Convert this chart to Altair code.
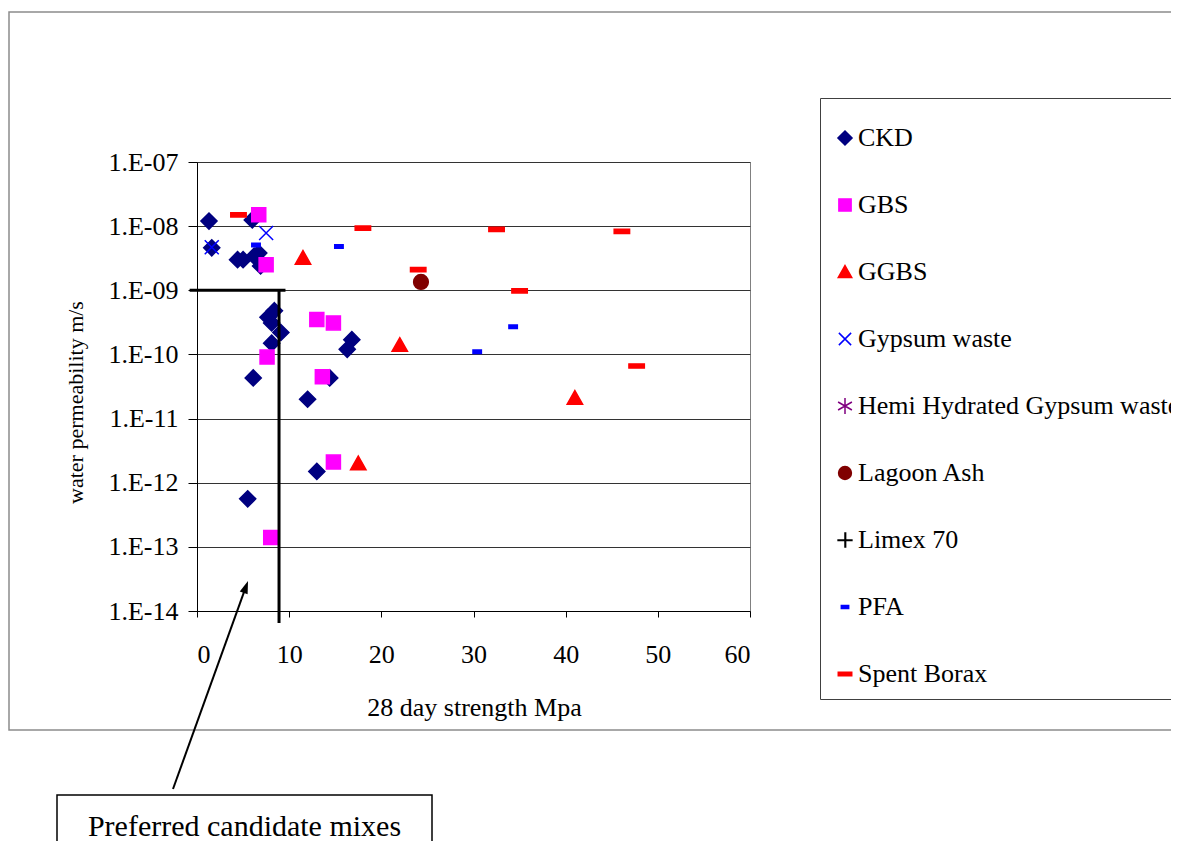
import altair as alt
import pandas as pd

series_names = ["CKD", "GBS", "GGBS", "Gypsum waste", "Hemi Hydrated Gypsum waste",
                "Lagoon Ash", "Limex 70", "PFA", "Spent Borax"]
series_colors = ["#000080", "#FF00FF", "#FF0000", "#0000FF", "#800080",
                 "#800000", "#000000", "#0000FF", "#FF0000"]
series_shapes = [
    "M0,-1.15L1.15,0L0,1.15L-1.15,0Z",
    "M-1,-1H1V1H-1Z",
    "M0,-1.05L1.1,0.9H-1.1Z",
    "M-1,-1L1,1M1,-1L-1,1",
    "M0,-1.3V1.3M-1.13,-0.65L1.13,0.65M-1.13,0.65L1.13,-0.65M0,-1.2V1.2",
    "M1.05,0A1.05,1.05,0,1,1,-1.05,0A1.05,1.05,0,1,1,1.05,0Z",
    "M-1.25,0H1.25M0,-1.25V1.25M-1.25,0.1H1.25M0.1,-1.25V1.25",
    "M-0.6,-0.25H0.6V0.25H-0.6Z",
    "M-1.1,-0.3H1.1V0.3H-1.1Z",
]

# 28 day strength (MPa) and water permeability (m/s)
ckd_x = [1.3, 6.0, 1.6, 4.4, 5.0, 6.2, 6.7, 6.9, 7.7, 8.4, 8.1, 9.1, 8.1, 16.8, 16.3, 6.1, 14.4, 12.0, 13.0, 5.5]
ckd_y = [1.2e-8, 1.25e-8, 4.6e-9, 3.0e-9, 3.0e-9, 3.4e-9, 3.8e-9, 2.4e-9, 3.8e-10, 4.8e-10,
         3.1e-10, 2.2e-10, 1.5e-10, 1.7e-10, 1.2e-10, 4.3e-11, 4.3e-11, 2.0e-11, 1.5e-12, 5.6e-13]
gbs_x = [6.7, 7.5, 13.0, 14.8, 7.6, 13.6, 14.8, 8.0]
gbs_y = [1.5e-8, 2.5e-9, 3.5e-10, 3.1e-10, 9.1e-11, 4.5e-11, 2.1e-12, 1.4e-13]
ggbs_x = [11.5, 22.0, 17.5, 41.0]
ggbs_y = [3.2e-9, 1.4e-10, 2.0e-12, 2.1e-11]
gyp_x = [1.6, 7.5]
gyp_y = [4.7e-9, 7.8e-9]
hemi_x = []
hemi_y = []
lagoon_x = [24.3]
lagoon_y = [1.35e-9]
limex_x = []
limex_y = []
pfa_x = [6.4, 15.4, 34.3, 30.4]
pfa_y = [5.1e-9, 4.8e-9, 2.7e-10, 1.1e-10]
borax_x = [4.5, 18.0, 32.5, 24.0, 35.0, 46.1, 47.7]
borax_y = [1.5e-8, 9.3e-9, 8.9e-9, 2.1e-9, 9.8e-10, 8.3e-9, 6.6e-11]

# preferred region boundary (strength ~9 MPa, permeability 1E-09)
limit_x = [-0.8, 8.9]
limit_x2 = [9.6, 8.9]
limit_y = [1e-9, 1e-9]
limit_y2 = [1e-9, 6.5e-15]

y_ticks = [1e-14, 1e-13, 1e-12, 1e-11, 1e-10, 1e-9, 1e-8, 1e-7]
x_ticks = [0, 10, 20, 30, 40, 50, 60]

all_x = [ckd_x, gbs_x, ggbs_x, gyp_x, hemi_x, lagoon_x, limex_x, pfa_x, borax_x]
all_y = [ckd_y, gbs_y, ggbs_y, gyp_y, hemi_y, lagoon_y, limex_y, pfa_y, borax_y]
rows = []
for name, xs, ys in zip(series_names, all_x, all_y):
    for a, b in zip(xs, ys):
        rows.append({"series": name, "x": a, "y": b})
points_df = pd.DataFrame(rows)
lines_df = pd.DataFrame({"x": limit_x, "x2": limit_x2, "y": limit_y, "y2": limit_y2})

FONT = "Liberation Serif"

x_enc = alt.X(
    "x:Q",
    title="28 day strength Mpa",
    scale=alt.Scale(domain=[0, 60], nice=False, zero=False),
    axis=alt.Axis(values=x_ticks, grid=False, tickSize=6, labelFontSize=26,
                  labelPadding=24, titleFontSize=26,
                  titleBaseline="alphabetic", titleX=277, titleY=104),
)
y_enc = alt.Y(
    "y:Q",
    title="water permeability m/s",
    scale=alt.Scale(type="log", domain=[1e-14, 1e-7], nice=False),
    axis=alt.Axis(values=y_ticks, grid=True, gridColor="#333333", gridWidth=1,
                  tickSize=9, labelFontSize=26, labelPadding=10,
                  labelExpr="'1.E-' + format(-round(log(datum.value)/LN10), '02d')",
                  titleFontSize=22, titleBaseline="alphabetic",
                  titleX=-115, titleY=240),
)

leg = alt.Legend(orient="none", legendX=623, legendY=-64, direction="vertical",
                 padding=12, strokeColor="#404040", fillColor="white",
                 labelFontSize=26, labelLimit=800, labelOffset=0, rowPadding=41,
                 symbolSize=150, symbolStrokeWidth=1.5,
                 titleFontSize=4, titlePadding=11)

outer = alt.Chart(pd.DataFrame({"k": [0]})).mark_rect(
    filled=False, color="#8c8c8c", strokeWidth=1.5
).encode(x=alt.value(-188), x2=alt.value(1100), y=alt.value(-150), y2=alt.value(568))

points = alt.Chart(points_df).mark_point(
    filled=True, size=196, strokeWidth=1.5, opacity=1
).encode(
    x=x_enc,
    y=y_enc,
    fill=alt.Fill("series:N", title=" ", scale=alt.Scale(domain=series_names, range=series_colors), legend=leg),
    stroke=alt.Stroke("series:N", title=" ", scale=alt.Scale(domain=series_names, range=series_colors), legend=leg),
    shape=alt.Shape("series:N", title=" ", scale=alt.Scale(domain=series_names, range=series_shapes), legend=leg),
)

limits = alt.Chart(lines_df).mark_rule(color="black", strokeWidth=3).encode(
    x=x_enc, x2="x2:Q", y=y_enc, y2="y2:Q"
)

arrow_line = alt.Chart(pd.DataFrame({"k": [0]})).mark_rule(color="black", strokeWidth=2).encode(
    x=alt.value(-24), y=alt.value(627), x2=alt.value(48.6), y2=alt.value(425.6)
)
arrow_head = alt.Chart(pd.DataFrame({"k": [0]})).mark_point(
    shape="M0,-1L0.6,0.8L-0.6,0.8Z", filled=True, color="black", size=196,
    angle=20, opacity=1
).encode(x=alt.value(48.6), y=alt.value(425.6))

box = alt.Chart(pd.DataFrame({"k": [0]})).mark_rect(
    filled=False, color="black", strokeWidth=1.5
).encode(x=alt.value(-140), x2=alt.value(235), y=alt.value(633), y2=alt.value(720))

box_text = alt.Chart(pd.DataFrame({"k": [0]})).mark_text(
    font=FONT, fontSize=30, color="black", align="center", baseline="middle"
).encode(x=alt.value(47.5), y=alt.value(665), text=alt.value("Preferred candidate mixes"))

chart = alt.layer(outer, points, limits, arrow_line, arrow_head, box, box_text).properties(
    width=553, height=449,
    padding={"left": 189, "top": 154, "right": 421, "bottom": 230},
    autosize=alt.AutoSizeParams(type="none"),
    background="white",
).configure_view(
    stroke="#808080", strokeWidth=1
).configure_axis(
    labelFont=FONT, titleFont=FONT, labelColor="black", titleColor="black",
    titleFontWeight="normal", tickColor="black", domainColor="black",
).configure_legend(
    labelFont=FONT, titleFont=FONT, labelColor="black",
).configure_text(font=FONT)

chart.save("out.html", embed_options={"renderer": "svg", "actions": False})
